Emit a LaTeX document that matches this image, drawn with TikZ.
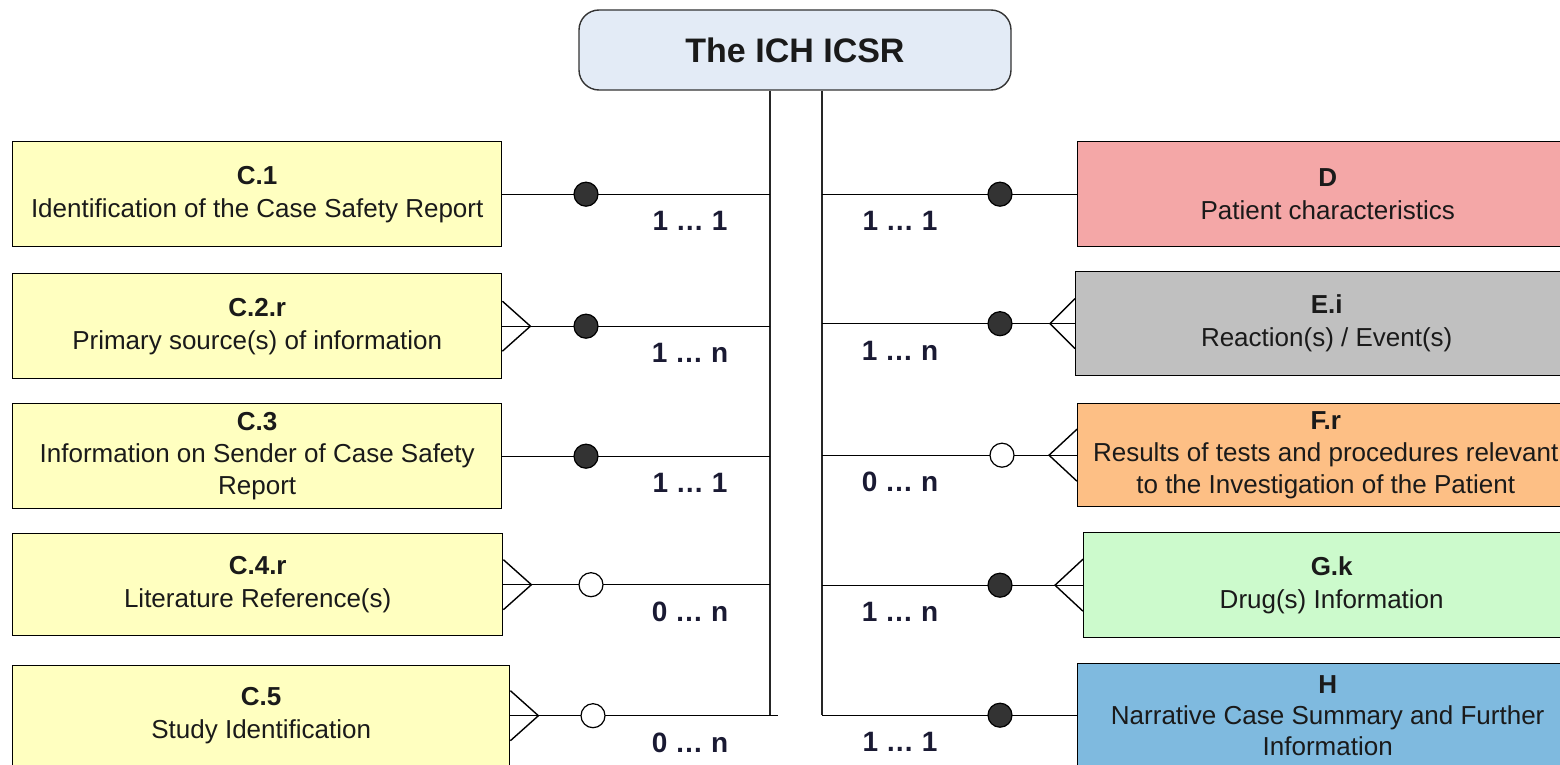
\documentclass[tikz,border=0pt]{standalone}
\usepackage{fontspec}
\setmainfont{Liberation Sans}
\definecolor{topfill}{HTML}{E3EBF6}
\definecolor{cyel}{HTML}{FFFFC0}
\definecolor{cpink}{HTML}{F4A7A7}
\definecolor{cgray}{HTML}{C0C0C0}
\definecolor{corange}{HTML}{FDBF85}
\definecolor{cgreen}{HTML}{CCFACC}
\definecolor{cblue}{HTML}{7FBADF}
\definecolor{dotgray}{HTML}{333333}
\definecolor{txt}{HTML}{1A1A1A}
\definecolor{labcol}{HTML}{1A1A33}
\begin{document}
\begin{tikzpicture}[x=1pt,y=-1pt,
  box/.style={draw=black, line width=1.4pt, rectangle, inner sep=0pt, anchor=north west,
    align=center, text=txt, font=\fontsize{26}{33}\selectfont},
  topbox/.style={draw=black!80, line width=1.4pt, rectangle, rounded corners=20pt, fill=topfill,
    minimum width=432pt, minimum height=80pt, text=txt, font=\fontsize{34}{36}\selectfont\bfseries},
  conn/.style={draw=black, line width=1.4pt},
  bus/.style={draw=black!85, line width=1.6pt},
  dotf/.style={circle, draw=black, line width=1.2pt, fill=dotgray, minimum size=24pt, inner sep=0pt},
  doto/.style={circle, draw=black, line width=1.2pt, fill=white, minimum size=24pt, inner sep=0pt},
  lab/.style={text=labcol, font=\fontsize{28}{30}\selectfont\bfseries, inner sep=0pt}
]
\useasboundingbox (0,0) rectangle (1560,765);
\clip (0,0) rectangle (1560,765);

% top node
\node[topbox] (top) at (795,50) {The ICH ICSR};

% left boxes
\node[box, fill=cyel, minimum width=489pt, minimum height=105pt] (C1) at (12,141)
  {\textbf{C.1}\\Identification of the Case Safety Report};
\node[box, fill=cyel, minimum width=489pt, minimum height=105pt] (C2) at (12,273)
  {\textbf{C.2.r}\\Primary source(s) of information};
\node[box, fill=cyel, minimum width=489pt, minimum height=105pt, font=\fontsize{26}{32}\selectfont] (C3) at (12,403)
  {\textbf{C.3}\\Information on Sender of Case Safety\\Report};
\node[box, fill=cyel, minimum width=490pt, minimum height=102pt] (C4) at (12,533)
  {\textbf{C.4.r}\\Literature Reference(s)};
\node[box, fill=cyel, minimum width=497pt, minimum height=100pt] (C5) at (12,665)
  {\textbf{C.5}\\Study Identification};

% right boxes
\node[box, fill=cpink, minimum width=500pt, minimum height=105pt] (D) at (1077,141)
  {\textbf{D}\\Patient characteristics};
\node[box, fill=cgray, minimum width=502pt, minimum height=104pt] (E) at (1075,271)
  {\textbf{E.i}\\Reaction(s) / Event(s)};
\node[box, fill=corange, minimum width=496pt, minimum height=103pt, font=\fontsize{26}{32}\selectfont] (F) at (1077,403)
  {\textbf{F.r}\\Results of tests and procedures relevant\\to the Investigation of the Patient};
\node[box, fill=cgreen, minimum width=496pt, minimum height=105pt] (G) at (1083,532)
  {\textbf{G.k}\\Drug(s) Information};
\node[box, fill=cblue, minimum width=500pt, minimum height=103pt, font=\fontsize{26}{31}\selectfont] (H) at (1077,663)
  {\textbf{H}\\Narrative Case Summary and Further\\Information};

% bus coordinates
\coordinate (bL) at (770,0);
\coordinate (bR) at (822,0);
\coordinate (xl1) at (586,0);
\coordinate (xl4) at (591,0);
\coordinate (xl5) at (593,0);
\coordinate (xr) at (1000,0);
\coordinate (xr3) at (1002,0);
\coordinate (labL) at (690,0);
\coordinate (labR) at (900,0);

% buses
\draw[bus] (top.south -| bL) -- (C5.east -| bL);
\draw[bus] (top.south -| bR) -- (H.west -| bR);

% left connectors
\draw[conn] (C1.east) -- (C1.east -| bL);
\draw[conn] (C2.east) -- (C2.east -| bL);
\draw[conn] (C3.east) -- (C3.east -| bL);
\draw[conn] (C4.east) -- (C4.east -| bL);
\draw[conn] (C5.east) -- ([xshift=8pt]C5.east -| bL);

% right connectors
\draw[conn] (D.west) -- (D.west -| bR);
\draw[conn] (E.west) -- (E.west -| bR);
\draw[conn] (F.west) -- (F.west -| bR);
\draw[conn] (G.west) -- (G.west -| bR);
\draw[conn] (H.west) -- (H.west -| bR);

% crow's feet left
\draw[conn] ([yshift=25pt]C2.east) -- ([xshift=28pt]C2.east) -- ([yshift=-25pt]C2.east);
\draw[conn] ([yshift=25pt]C4.east) -- ([xshift=28pt]C4.east) -- ([yshift=-25pt]C4.east);
\draw[conn] ([yshift=25pt]C5.east) -- ([xshift=28pt]C5.east) -- ([yshift=-25pt]C5.east);
% crow's feet right
\draw[conn] ([yshift=25pt]E.west) -- ([xshift=-25pt]E.west) -- ([yshift=-25pt]E.west);
\draw[conn] ([yshift=26pt]F.west) -- ([xshift=-28pt]F.west) -- ([yshift=-26pt]F.west);
\draw[conn] ([yshift=26pt]G.west) -- ([xshift=-28pt]G.west) -- ([yshift=-26pt]G.west);

% dots
\node[dotf] (d1) at (C1.east -| xl1) {};
\node[dotf] (d2) at (C2.east -| xl1) {};
\node[dotf] (d3) at (C3.east -| xl1) {};
\node[doto] (d4) at (C4.east -| xl4) {};
\node[doto] (d5) at (C5.east -| xl5) {};
\node[dotf] (e1) at (D.west -| xr) {};
\node[dotf] (e2) at (E.west -| xr) {};
\node[doto] (e3) at (F.west -| xr3) {};
\node[dotf] (e4) at (G.west -| xr) {};
\node[dotf] (e5) at (H.west -| xr) {};

% labels
\node[lab, yshift=-27pt] (l1) at (C1.east -| labL) {1 … 1};
\node[lab, yshift=-27pt] (l2) at (C2.east -| labL) {1 … n};
\node[lab, yshift=-27pt] (l3) at (C3.east -| labL) {1 … 1};
\node[lab, yshift=-27pt] (l4) at (C4.east -| labL) {0 … n};
\node[lab, yshift=-27pt] (l5) at (C5.east -| labL) {0 … n};
\node[lab, yshift=-27pt] (r1) at (D.west -| labR) {1 … 1};
\node[lab, yshift=-27pt] (r2) at (E.west -| labR) {1 … n};
\node[lab, yshift=-27pt] (r3) at (F.west -| labR) {0 … n};
\node[lab, yshift=-27pt] (r4) at (G.west -| labR) {1 … n};
\node[lab, yshift=-27pt] (r5) at (H.west -| labR) {1 … 1};
\end{tikzpicture}
\end{document}
